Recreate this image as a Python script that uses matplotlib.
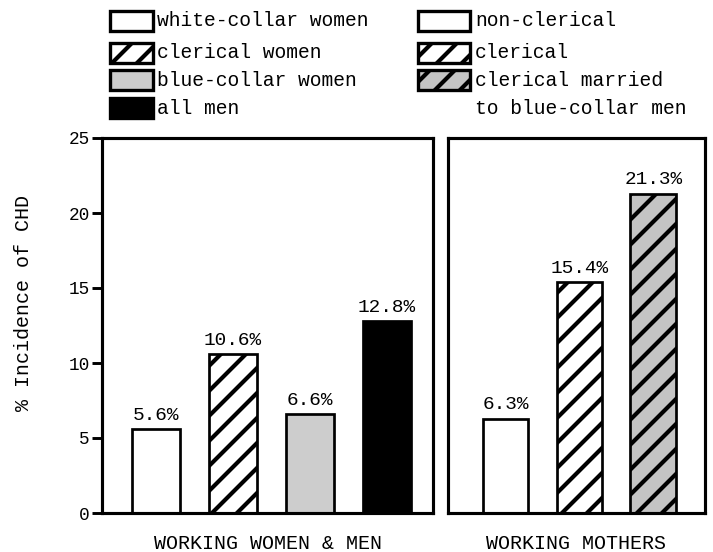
import matplotlib
matplotlib.use("Agg")
import matplotlib.pyplot as plt
from matplotlib.patches import Rectangle

# data
left_groups = ["white-collar women", "clerical women", "blue-collar women", "all men"]
left_values = [5.6, 10.6, 6.6, 12.8]
right_groups = ["non-clerical", "clerical", "clerical married\nto blue-collar men"]
right_values = [6.3, 15.4, 21.3]
yticks = [0, 5, 10, 15, 20, 25]
panel_titles = ["WORKING WOMEN & MEN", "WORKING MOTHERS"]

# fill styles: (facecolor, hatch)
left_styles = [("white", ""), ("white", "//"), ("#cdcdcd", ""), ("black", "")]
right_styles = [("white", ""), ("white", "//"), ("#c4c4c4", "//")]

W, H, DPI = 713, 552, 150
plt.rcParams["font.family"] = ["Liberation Mono", "DejaVu Sans Mono"]
plt.rcParams["hatch.linewidth"] = 2.0
plt.rcParams["hatch.color"] = "black"

fig = plt.figure(figsize=(W / DPI, H / DPI), dpi=DPI)

def fx(px):
    return px / W

def fy(py):
    return 1 - py / H

axL = fig.add_axes([fx(102), fy(513), fx(433) - fx(102), fy(138) - fy(513)])
axR = fig.add_axes([fx(448), fy(513), fx(705) - fx(448), fy(138) - fy(513)])

def draw_panel(ax, values, styles, xlim):
    xs = list(range(1, len(values) + 1))
    for x, v, (fc, hatch) in zip(xs, values, styles):
        ax.bar(x, v, width=0.62, facecolor=fc, hatch=hatch, edgecolor="black",
               linewidth=1.3)
        ax.text(x, v + 0.35, "%.1f%%" % v, ha="center", va="bottom", fontsize=9.3)
    ax.set_xlim(*xlim)
    ax.set_ylim(0, 25)
    ax.set_xticks([])
    for s in ax.spines.values():
        s.set_linewidth(1.5)

draw_panel(axL, left_values, left_styles, (0.3, 4.6))
draw_panel(axR, right_values, right_styles, (0.22, 3.7))

axL.set_yticks(yticks)
axL.tick_params(axis="y", direction="out", length=5, width=1.4, pad=1, labelsize=8.5)
axR.set_yticks([])

axL.set_xlabel(panel_titles[0], fontsize=9.6, labelpad=10)
axR.set_xlabel(panel_titles[1], fontsize=9.6, labelpad=10)

fig.text(fx(24), fy(303), "% Incidence of CHD", rotation=90, ha="center",
         va="center", fontsize=9.6)

# legend, drawn by hand to follow the original layout
rows = [21, 53, 80, 108]
def legend_box(x0, w, row, fc, hatch):
    fig.add_artist(Rectangle((fx(x0), fy(row + 10)), fx(w), 20 / H,
                             transform=fig.transFigure, facecolor=fc,
                             hatch=hatch, edgecolor="black", linewidth=1.6))

for row, name, (fc, hatch) in zip(rows, left_groups, left_styles):
    legend_box(110, 43, row, fc, hatch)
    fig.text(fx(157), fy(row), name, ha="left", va="center", fontsize=9.4)

for i, (name, (fc, hatch)) in enumerate(zip(right_groups, right_styles)):
    legend_box(418, 52, rows[i], fc, hatch)
    for j, line in enumerate(name.split("\n")):
        fig.text(fx(475), fy(rows[i + j]), line, ha="left", va="center", fontsize=9.4)

fig.savefig("out.png", dpi=DPI)
